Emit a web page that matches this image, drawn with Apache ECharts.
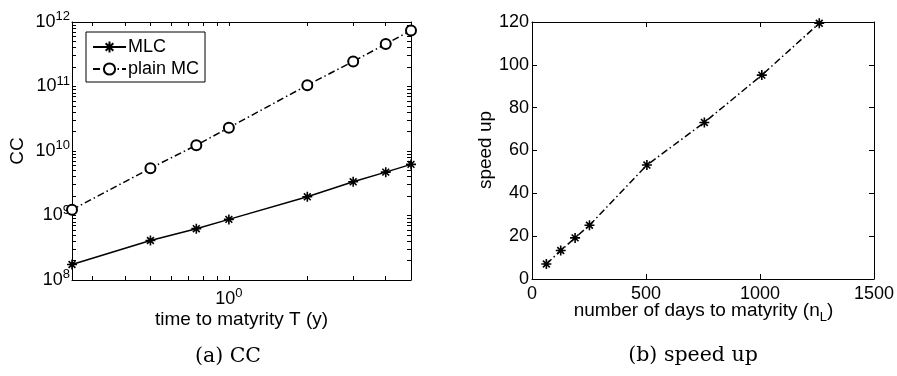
<!DOCTYPE html>
<html><head><meta charset="utf-8">
<script src="https://cdn.jsdelivr.net/npm/echarts@6/dist/echarts.min.js"></script>
<style>html,body{margin:0;padding:0;background:#fff}#c{width:897px;height:376px}</style>
</head><body><div id="c"></div>
<script>
// ---- data ----
const maturityT = [0.25, 0.5, 0.75, 1, 2, 3, 4, 5];
const ccMLC = [1.74e8, 4.1e8, 6.25e8, 8.7e8, 1.95e9, 3.33e9, 4.7e9, 6.2e9];
const ccPlainMC = [1.23e9, 5.4e9, 1.23e10, 2.3e10, 1.05e11, 2.45e11, 4.55e11, 7.4e11];
const days = [63, 126, 189, 252, 504, 756, 1008, 1260];
const speedUp = [7.0, 13.3, 19.2, 25.1, 53.2, 73.1, 95.2, 119.4];
const xLogTicks = [0.3, 0.4, 0.5, 0.6, 0.7, 0.8, 0.9, 1, 2, 3, 4, 5];
const xLogLabels = [1];
const yLogTicks = [];
for (let e = 8; e < 12; e++) for (let m = 1; m < 10; m++) yLogTicks.push(m * Math.pow(10, e));
yLogTicks.push(1e12);
const yLogLabels = [1e8, 1e9, 1e10, 1e11, 1e12];

const FONT = '"Liberation Sans", Arial, sans-serif';
const SERIF = '"DejaVu Serif", "Liberation Serif", serif';
const FS = 18;
const TFS = 19;
const black = '#000';
const asterisk = 'path://M5 0L5 10M0 5L10 5M1.6 1.6L8.4 8.4M1.6 8.4L8.4 1.6';
const dashDot = [7, 3, 1.5, 3];

function powLabel(v) {
  const e = Math.round(Math.log10(v));
  return '{b|10}{s|' + e + '}';
}
const powRich = {
  b: {fontSize: FS, fontFamily: FONT, color: black},
  s: {fontSize: 13, fontFamily: FONT, color: black, padding: [0, 0, 11, 0]}
};
const axLine = {show: true, onZero: false, lineStyle: {color: black, width: 1}};

function logX(pos, labels) {
  return {
    type: 'log', gridIndex: 0, position: pos, min: 0.25, max: 5,
    axisLine: axLine,
    axisTick: {show: true, inside: true, length: 4, customValues: xLogTicks, lineStyle: {color: black}},
    axisLabel: labels ? {show: true, customValues: xLogLabels, formatter: powLabel, rich: powRich, margin: 7} : {show: false},
    splitLine: {show: false}, minorTick: {show: false}
  };
}
function logY(pos, labels) {
  return {
    type: 'log', gridIndex: 0, position: pos, min: 1e8, max: 1e12,
    axisLine: axLine,
    axisTick: {show: true, inside: true, length: 4, customValues: yLogTicks, lineStyle: {color: black}},
    axisLabel: labels ? {show: true, customValues: yLogLabels, formatter: powLabel, rich: powRich, margin: 2} : {show: false},
    splitLine: {show: false}
  };
}
function linAx(pos, min, max, step, labels, margin) {
  return {
    type: 'value', gridIndex: 1, position: pos, min: min, max: max, interval: step,
    axisLine: axLine,
    axisTick: {show: true, inside: true, length: 5, lineStyle: {color: black}},
    axisLabel: labels ? {show: true, fontSize: FS, fontFamily: FONT, color: black, margin: margin,
      formatter: v => String(v)} : {show: false},
    splitLine: {show: false}
  };
}

const chart = echarts.init(document.getElementById('c'), null, {renderer: 'canvas'});
chart.setOption({
  backgroundColor: '#fff',
  animation: false,
  grid: [
    {left: 72, top: 22, width: 339, height: 258, containLabel: false},
    {left: 532, top: 22, width: 342, height: 257, containLabel: false}
  ],
  xAxis: [logX('bottom', true), logX('top', false), linAx('bottom', 0, 1500, 500, true, 6), linAx('top', 0, 1500, 500, false)],
  yAxis: [logY('left', true), logY('right', false), linAx('left', 0, 120, 20, true, 3), linAx('right', 0, 120, 20, false)],
  legend: {
    left: 86, top: 32, orient: 'vertical', itemWidth: 33, itemHeight: 14, itemGap: 4,
    padding: [6, 6, 4, 6], borderColor: black, borderWidth: 1, backgroundColor: '#fff', borderRadius: 0,
    textStyle: {fontSize: FS, fontFamily: FONT, color: black, padding: [0, 0, 0, -3]},
    data: ['MLC', 'plain MC']
  },
  series: [
    {name: 'MLC', type: 'line', xAxisIndex: 0, yAxisIndex: 0,
      data: maturityT.map((t, i) => [t, ccMLC[i]]),
      symbol: asterisk, symbolSize: 10,
      lineStyle: {color: black, width: 1.5},
      itemStyle: {color: black, borderColor: black, borderWidth: 1.6}},
    {name: 'plain MC', type: 'line', xAxisIndex: 0, yAxisIndex: 0,
      data: maturityT.map((t, i) => [t, ccPlainMC[i]]),
      symbol: 'emptyCircle', symbolSize: 10,
      lineStyle: {color: black, width: 1.5, type: dashDot},
      itemStyle: {color: black, borderColor: black, borderWidth: 1.5}},
    {name: 'speed up', type: 'line', xAxisIndex: 2, yAxisIndex: 2,
      data: days.map((d, i) => [d, speedUp[i]]),
      symbol: asterisk, symbolSize: 10,
      lineStyle: {color: black, width: 1.5, type: dashDot},
      itemStyle: {color: black, borderColor: black, borderWidth: 1.6}}
  ],
  graphic: [
    {type: 'text', x: 17.5, y: 151, rotation: Math.PI / 2, style: {text: 'CC', fill: black, font: TFS + 'px ' + FONT, align: 'center', verticalAlign: 'middle'}},
    {type: 'text', x: 241.5, y: 320, style: {text: 'time to matyrity T (y)', fill: black, font: TFS + 'px ' + FONT, align: 'center', verticalAlign: 'middle'}},
    {type: 'text', x: 228, y: 357, style: {text: '(a) CC', fill: black, font: '20.5px ' + SERIF, align: 'center', verticalAlign: 'middle'}},
    {type: 'text', x: 703.5, y: 311, style: {text: 'number of days to matyrity (n{sub|L})', fill: black, font: TFS + 'px ' + FONT, align: 'center', verticalAlign: 'middle',
      rich: {sub: {fontSize: 13, fontFamily: FONT, fill: black, padding: [12, 0, 0, 0]}}}},
    {type: 'text', x: 693, y: 356, style: {text: '(b) speed up', fill: black, font: '20.5px ' + SERIF, align: 'center', verticalAlign: 'middle'}},
    {type: 'text', x: 486, y: 150, rotation: Math.PI / 2, style: {text: 'speed up', fill: black, font: TFS + 'px ' + FONT, align: 'center', verticalAlign: 'middle'}}
  ]
});
</script></body></html>
